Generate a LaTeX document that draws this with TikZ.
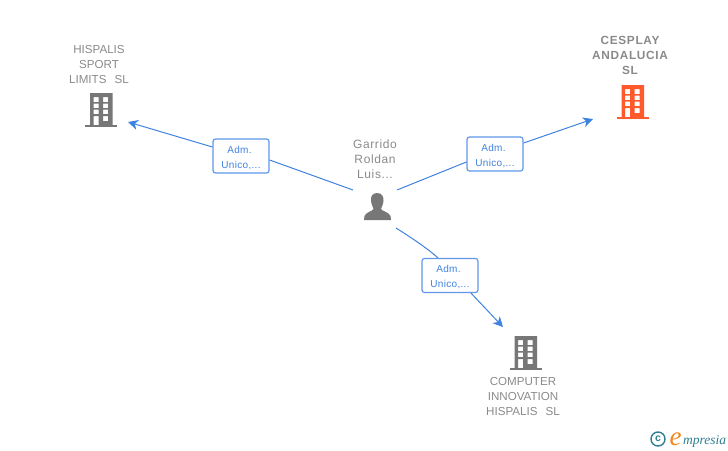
\documentclass[tikz,border=0pt]{standalone}
\usepackage{fontspec}
\setmainfont{Liberation Sans}
\newfontfamily\logofont{Liberation Serif}
\usetikzlibrary{arrows.meta}
\definecolor{linkblue}{HTML}{3F82E0}
\definecolor{boxedge}{HTML}{5F98E8}
\definecolor{txtgrey}{HTML}{8A8A8A}
\definecolor{icongrey}{HTML}{777777}
\definecolor{iconred}{HTML}{FF5A2C}
\definecolor{logoteal}{HTML}{2F7F93}
\definecolor{logoorange}{HTML}{F0861E}
\newcommand{\roletext}{\rule{0pt}{10.5pt}\hspace*{-3pt}Adm.\\Unico,...}
\tikzset{
  link/.style={draw=linkblue,line width=1pt},
  arrowlink/.style={link,-{Stealth[length=10pt,width=10pt,inset=3pt]}},
  rolebox/.style={draw=boxedge,line width=1.2pt,rounded corners=2.5pt,fill=white,
    minimum width=56pt,minimum height=34pt,inner sep=0pt,align=center,text=linkblue,font=\fontsize{10}{15}\selectfont\addfontfeatures{LetterSpace=3}},
  company/.style={text=txtgrey,align=center,inner sep=0pt,font=\fontsize{11.6}{15}\selectfont},
  bcompany/.style={text=txtgrey,align=center,inner sep=0pt,font=\fontsize{11.8}{15}\selectfont\bfseries\addfontfeatures{LetterSpace=6}},
  person/.style={text=txtgrey,align=center,inner sep=0pt,font=\fontsize{12}{15}\selectfont\addfontfeatures{LetterSpace=5}},
  bldg/.pic={
    \fill[#1,even odd rule]
      (0,0) rectangle (22.5,32)
      (3.5,4) rectangle (8.5,9) (13,4) rectangle (18,9)
      (3.5,10.5) rectangle (8.5,15) (13,10.5) rectangle (18,15)
      (3.5,16.5) rectangle (8.5,21) (13,16.5) rectangle (18,21)
      (3.5,23) rectangle (8.5,32) (13,23) rectangle (18,28);
    \fill[#1] (-5,32) rectangle (27,34);
  }
}
\begin{document}
\begin{tikzpicture}[x=1pt,y=-1pt]
\useasboundingbox (0,0) rectangle (728,450);
% connector ends
\coordinate (gl) at (353,190);
\coordinate (gr) at (397,190);
\coordinate (gd) at (396,228);
\coordinate (tl) at (128,122);
\coordinate (tr) at (593,119);
\coordinate (td) at (503,327);
% connectors first, boxes on top
\node[rolebox] (b1) at (241,156) {\roletext};
\node[rolebox] (b2) at (495,154) {\roletext};
\node[rolebox] (b3) at (450,275.5) {\roletext};
\draw[link] (gl) -- ([yshift=-4pt]b1.east);
\draw[arrowlink] ([yshift=9pt]b1.west) -- (tl);
\draw[link] (gr) -- ([yshift=-8pt]b2.west);
\draw[arrowlink] ([yshift=11pt]b2.east) -- (tr);
\draw[link] (gd) .. controls (415,240) and (428,249) .. ([xshift=-12pt]b3.north);
\draw[arrowlink] ([xshift=21pt]b3.south) -- (td);
% labels
\node[company] (n1) at (99,64.5) {HISPALIS\\SPORT\\LIMITS\hspace{0.7em}SL};
\node[bcompany] (n2) at (630,55.5) {CESPLAY\\ANDALUCIA\\SL};
\node[company] (n3) at (523,396.5) {COMPUTER\\INNOVATION\\HISPALIS\hspace{0.7em}SL};
\node[person] (n4) at (375,159.5) {Garrido\\Roldan\\Luis...};
% icons
\pic at (90,93) {bldg=icongrey};
\pic at (621.5,85) {bldg=iconred};
\pic at (514.5,336) {bldg=icongrey};
\fill[icongrey] (377,193) .. controls (372,193) and (370.5,197) .. (371,201)
  .. controls (371.5,205) and (373,207) .. (373.5,209)
  .. controls (373,211) and (366,212) .. (364.5,216) -- (364,220) -- (391,220) -- (390.5,216)
  .. controls (389,212) and (381.5,211) .. (381,209)
  .. controls (381.5,207) and (383,205) .. (383.5,201)
  .. controls (384,197) and (382,193) .. (377,193) -- cycle;
% logo
\draw[logoteal,line width=1.4pt] (658,439) circle (7);
\node[text=logoteal,inner sep=0pt,font=\fontsize{10.5}{10}\selectfont\bfseries] (lc) at (658,438.7) {c};
\node[text=logoorange,inner sep=0pt,anchor=base west,font=\logofont\itshape\fontsize{27}{27}\selectfont] (le) at (669.5,445) {e};
\node[text=logoteal,inner sep=0pt,anchor=base west,font=\logofont\itshape\fontsize{13.5}{14}\selectfont] (lm) at (683,444) {mpresia};
\end{tikzpicture}
\end{document}
